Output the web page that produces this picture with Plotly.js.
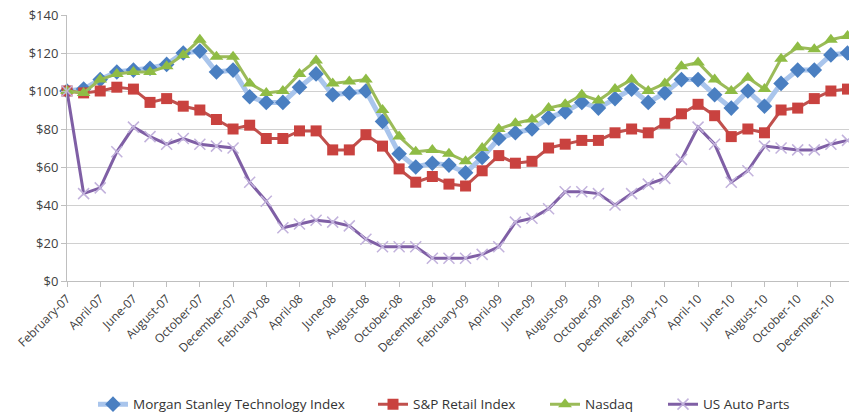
<!DOCTYPE html>
<html>
<head>
<meta charset="utf-8">
<script src="https://cdn.plot.ly/plotly-3.0.1.min.js"></script>
<style>html,body{margin:0;padding:0;background:#fff;}#chart{width:849px;height:416px;}</style>
</head>
<body>
<div id="chart"></div>
<script>
const months = [
 "February-07","March-07","April-07","May-07","June-07","July-07","August-07","September-07","October-07","November-07","December-07","January-08",
 "February-08","March-08","April-08","May-08","June-08","July-08","August-08","September-08","October-08","November-08","December-08","January-09",
 "February-09","March-09","April-09","May-09","June-09","July-09","August-09","September-09","October-09","November-09","December-09","January-10",
 "February-10","March-10","April-10","May-10","June-10","July-10","August-10","September-10","October-10","November-10","December-10","January-11"
];
const morganStanley = [100,101,106,110,111,112,114,120,121,110,111,97,94,94,102,109,98,99,100,84,67,60,62,61,57,65,75,78,80,86,89,94,91,96,101,94,99,106,106,98,91,100,92,104,111,111,119,120];
const spRetail = [100,99,100,102,101,94,96,92,90,85,80,82,75,75,79,79,69,69,77,71,59,52,55,51,50,58,66,62,63,70,72,74,74,78,80,78,83,88,93,87,76,80,78,90,91,96,100,101];
const nasdaq = [100,99,106,109,110,110,113,119,127,118,118,104,99,100,109,116,104,105,106,90,76,68,69,67,63,70,80,83,85,91,93,98,95,101,106,100,104,113,115,106,100,107,101,117,123,122,127,129];
const autoParts = [100,46,49,68,81,76,72,75,72,71,70,52,42,28,30,32,31,29,22,18,18,18,12,12,12,14,18,31,33,38,47,47,46,40,46,51,54,64,81,72,52,58,71,70,69,69,72,74];
const seriesNames = ["Morgan Stanley Technology Index","S&P Retail Index","Nasdaq","US Auto Parts"];

const idx = months.map((m,i)=>i);
const tickIdx = idx.filter(i=>i%2===0);
const tickText = tickIdx.map(i=>months[i]);

const traces = [
 {x:idx,y:morganStanley,name:seriesNames[0],legend:'legend',mode:'lines+markers',cliponaxis:false,
  line:{color:'#a9c5ec',width:5},marker:{symbol:'diamond',size:12,color:'#4a7fc1'}},
 {x:idx,y:spRetail,name:seriesNames[1],legend:'legend2',mode:'lines+markers',cliponaxis:false,
  line:{color:'#c0504d',width:3},marker:{symbol:'square',size:11,color:'#c9423f'}},
 {x:idx,y:nasdaq,name:seriesNames[2],legend:'legend3',mode:'lines+markers',cliponaxis:false,
  line:{color:'#9bbb59',width:3},marker:{symbol:'triangle-up',size:12,color:'#8fbc45'}},
 {x:idx,y:autoParts,name:seriesNames[3],legend:'legend4',mode:'lines+markers',cliponaxis:false,
  line:{color:'#7f5fa5',width:3},marker:{symbol:'x-thin',size:11,color:'#c2b2dc',line:{color:'#c2b2dc',width:1.5}}}
];

function leg(px){
 return {orientation:'h',xref:'container',yref:'container',x:px/849,xanchor:'left',y:0.028,yanchor:'middle',
   font:{size:13.5,color:'#333'},bgcolor:'rgba(0,0,0,0)'};
}

const layout = {
 width:849,height:416,
 margin:{l:67,r:0,t:15,b:135},
 paper_bgcolor:'#fff',plot_bgcolor:'#fff',
 font:{family:'"Open Sans", Lato, sans-serif',size:12,color:'#404040'},
 showlegend:true,
 legend:leg(93),legend2:leg(373),legend3:leg(545),legend4:leg(663),
 xaxis:{range:[0,47.09],tickmode:'array',tickvals:tickIdx,ticktext:tickText,tickangle:-45,
   showgrid:false,zeroline:false,showline:true,linecolor:'#bfbfbf',linewidth:1,
   ticks:'outside',ticklen:5,tickcolor:'#bfbfbf',tickfont:{size:12,color:'#404040'}},
 yaxis:{range:[0,140],dtick:20,tick0:0,tickprefix:'$',showgrid:true,gridcolor:'#d0d0d0',gridwidth:1,
   zeroline:false,showline:true,linecolor:'#bfbfbf',linewidth:1,ticks:'outside',ticklen:5,tickcolor:'#bfbfbf',
   tickfont:{size:13,color:'#404040'}}
};

Plotly.newPlot('chart',traces,layout,{displayModeBar:false,staticPlot:true});
</script>
</body>
</html>
